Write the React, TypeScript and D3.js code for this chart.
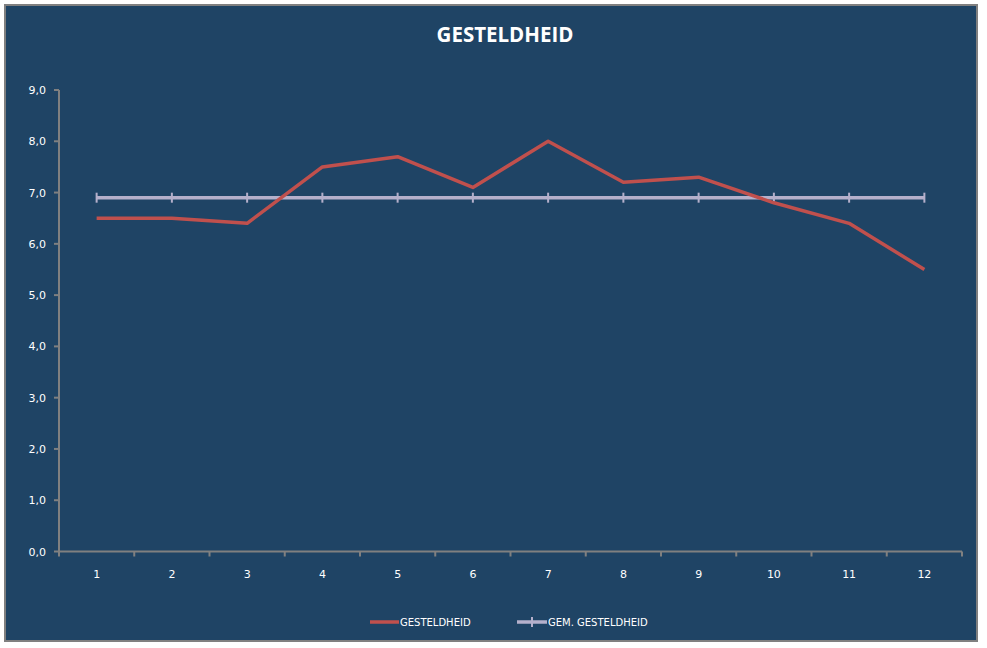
import React, { useEffect, useRef } from 'react';
import * as d3 from 'd3';

const categories = ['1', '2', '3', '4', '5', '6', '7', '8', '9', '10', '11', '12'];
const gesteldheid = [6.5, 6.5, 6.4, 7.5, 7.7, 7.1, 8.0, 7.2, 7.3, 6.8, 6.4, 5.5];
const gemGesteldheid = [6.9, 6.9, 6.9, 6.9, 6.9, 6.9, 6.9, 6.9, 6.9, 6.9, 6.9, 6.9];
const yTicks = [0, 1, 2, 3, 4, 5, 6, 7, 8, 9];

const W = 987;
const H = 648;
const BG = '#1F4465';
const RED = '#C0504D';
const LAV = '#B5B0CB';
const FONT = 'Tahoma, "DejaVu Sans", Verdana, sans-serif';

const App = () => {
  const ref = useRef<SVGSVGElement | null>(null);

  useEffect(() => {
    const svg = d3.select(ref.current);
    svg.selectAll('*').remove();

    svg.append('rect').attr('width', W).attr('height', H).attr('fill', '#fff');
    svg.append('rect')
      .attr('x', 5).attr('y', 5).attr('width', 972).attr('height', 636)
      .attr('fill', BG).attr('stroke', '#808080').attr('stroke-width', 2);

    svg.append('text')
      .attr('x', 505).attr('y', 42)
      .attr('text-anchor', 'middle')
      .attr('fill', '#fff')
      .style('font', 'bold 20.5px "Open Sans", sans-serif')
      .text('GESTELDHEID');

    const x = d3.scaleBand().domain(categories).range([59, 962]);
    const y = d3.scaleLinear().domain([0, 9]).range([551.5, 90]);

    // y axis
    const ya = svg.append('g');
    ya.append('line').attr('x1', 59).attr('x2', 59).attr('y1', y(9)).attr('y2', y(0))
      .attr('stroke', '#808080').attr('stroke-width', 2);
    yTicks.forEach(t => {
      ya.append('line').attr('x1', 54).attr('x2', 59).attr('y1', y(t)).attr('y2', y(t))
        .attr('stroke', '#808080').attr('stroke-width', 2);
      ya.append('text')
        .attr('x', 46).attr('y', y(t) + 4)
        .attr('text-anchor', 'end')
        .attr('fill', '#fff')
        .style('font', `11px ${FONT}`)
        .text(d3.format('.1f')(t).replace('.', ','));
    });

    // x axis
    const xa = svg.append('g');
    xa.append('line').attr('x1', 58).attr('x2', 962).attr('y1', y(0)).attr('y2', y(0))
      .attr('stroke', '#808080').attr('stroke-width', 2);
    categories.forEach((c, i) => {
      const xp = x(c)!;
      xa.append('line').attr('x1', xp).attr('x2', xp).attr('y1', y(0)).attr('y2', y(0) + 5)
        .attr('stroke', '#808080').attr('stroke-width', 2);
      if (i === categories.length - 1) {
        xa.append('line').attr('x1', 962).attr('x2', 962).attr('y1', y(0)).attr('y2', y(0) + 5)
          .attr('stroke', '#808080').attr('stroke-width', 2);
      }
      xa.append('text')
        .attr('x', xp + x.bandwidth() / 2).attr('y', y(0) + 26)
        .attr('text-anchor', 'middle')
        .attr('fill', '#fff')
        .style('font', `11px ${FONT}`)
        .text(c);
    });

    const cx = (i: number) => x(categories[i])! + x.bandwidth() / 2;
    const line = d3.line<number>().x((_, i) => cx(i)).y(d => y(d));

    // average line with + markers
    svg.append('path').datum(gemGesteldheid)
      .attr('d', line).attr('fill', 'none').attr('stroke', LAV).attr('stroke-width', 3.5);
    gemGesteldheid.forEach((v, i) => {
      svg.append('line')
        .attr('x1', cx(i)).attr('x2', cx(i)).attr('y1', y(v) - 5).attr('y2', y(v) + 5)
        .attr('stroke', LAV).attr('stroke-width', 2);
    });

    svg.append('path').datum(gesteldheid)
      .attr('d', line).attr('fill', 'none').attr('stroke', RED).attr('stroke-width', 3.5)
      .attr('stroke-linejoin', 'round');

    // legend
    const lg = svg.append('g');
    lg.append('line').attr('x1', 370).attr('x2', 399).attr('y1', 622).attr('y2', 622)
      .attr('stroke', RED).attr('stroke-width', 3.5);
    lg.append('text').attr('x', 400).attr('y', 626).attr('fill', '#fff')
      .style('font', `10px ${FONT}`).text('GESTELDHEID');
    lg.append('line').attr('x1', 517).attr('x2', 547).attr('y1', 622).attr('y2', 622)
      .attr('stroke', LAV).attr('stroke-width', 3.5);
    lg.append('line').attr('x1', 532).attr('x2', 532).attr('y1', 617).attr('y2', 627)
      .attr('stroke', LAV).attr('stroke-width', 2);
    lg.append('text').attr('x', 548).attr('y', 626).attr('fill', '#fff')
      .style('font', `10px ${FONT}`).text('GEM. GESTELDHEID');
  }, []);

  return (
    <svg
      ref={ref}
      width={W}
      height={H}
      style={{ position: 'absolute', left: 0, top: 0, display: 'block' }}
    />
  );
};

export default App;
